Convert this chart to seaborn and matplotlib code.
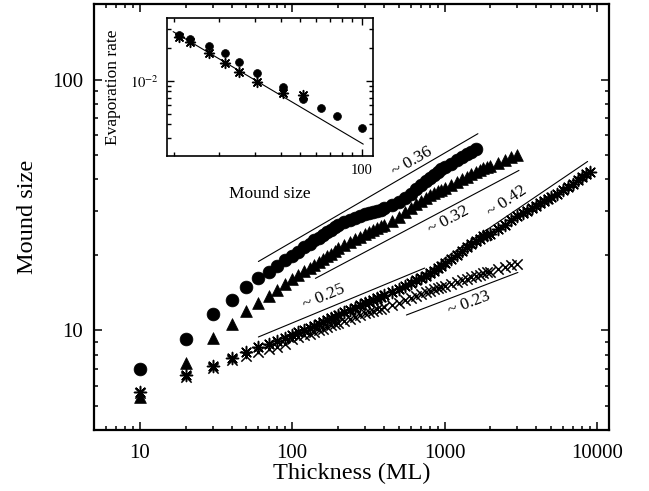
import numpy as np
import seaborn as sns
import matplotlib
matplotlib.use("Agg")
import matplotlib.pyplot as plt
from matplotlib.ticker import FixedLocator, NullFormatter, FixedFormatter

# thickness grid (ML)
thick = [10, 20, 30, 40, 50, 60, 70, 80, 90, 100,
         110, 120, 130, 140, 150, 160, 170, 180, 190, 200,
         220, 240, 260, 280, 300, 320, 340, 360, 380, 400,
         450, 500, 550, 600, 650, 700, 750, 800, 850, 900, 950, 1000,
         1100, 1200, 1300, 1400, 1500, 1600, 1700, 1800, 1900, 2000,
         2250, 2500, 2750, 3000]
thick_long = thick + [3250, 3500, 3750, 4000, 4250, 4500, 4750, 5000,
                      5500, 6000, 6500, 7000, 7500, 8000, 8500, 9000]

mound_circle = [7.0, 9.25, 11.6, 13.2, 14.9, 16.1, 17.1, 18.0, 19.0, 19.8,
                20.6, 21.4, 22.1, 22.8, 23.4, 24.0, 24.6, 25.2, 25.8, 26.3,
                27.0, 27.6, 28.1, 28.6, 29.0, 29.3, 29.7, 30.0, 30.3, 30.7,
                31.5, 32.5, 33.8, 35.0, 36.5, 37.9, 39.2, 40.4, 41.5, 42.6, 43.8, 44.6,
                46.2, 47.8, 49.2, 50.3, 51.3, 52.6]
mound_triangle = [5.4, 7.4, 9.35, 10.6, 11.9, 12.9, 13.7, 14.5, 15.3, 16.0,
                  16.6, 17.2, 17.7, 18.2, 18.7, 19.2, 19.7, 20.2, 20.7, 21.2,
                  21.9, 22.5, 23.1, 23.6, 24.1, 24.6, 25.1, 25.6, 26.0, 26.4,
                  27.2, 28.3, 29.6, 30.8, 31.9, 32.8, 33.7, 34.5, 35.2, 35.8, 36.4, 37.0,
                  38.0, 39.1, 40.1, 41.0, 41.9, 42.7, 43.5, 44.2, 44.8, 45.3,
                  46.5, 47.6, 49.0, 50.0]
mound_star = [5.67, 6.6, 7.2, 7.75, 8.2, 8.55, 8.8, 9.05, 9.35, 9.55,
              9.8, 10.0, 10.2, 10.4, 10.6, 10.8, 11.0, 11.2, 11.3, 11.5,
              11.8, 12.0, 12.3, 12.6, 12.8, 13.0, 13.2, 13.4, 13.6, 13.8,
              14.2, 14.6, 15.0, 15.4, 15.8, 16.2, 16.5, 16.9, 17.3, 17.7, 18.1, 18.5,
              19.3, 20.0, 20.7, 21.4, 22.0, 22.6, 23.2, 23.7, 24.0, 24.2,
              25.3, 26.4, 27.5, 28.5, 29.3, 30.0, 30.7, 31.4, 32.1, 32.7, 33.3, 33.9,
              35.0, 36.1, 37.2, 38.4, 39.7, 40.9, 41.9, 42.8]
mound_cross = [5.6, 6.5, 7.1, 7.6, 7.9, 8.2, 8.45, 8.6, 8.85, 9.2,
               9.4, 9.55, 9.7, 9.85, 10.0, 10.15, 10.3, 10.45, 10.55, 10.7,
               10.9, 11.1, 11.3, 11.5, 11.7, 11.8, 11.95, 12.1, 12.2, 12.35,
               12.6, 12.9, 13.2, 13.5, 13.7, 13.95, 14.15, 14.35, 14.55, 14.7, 14.9, 15.0,
               15.3, 15.55, 15.8, 16.0, 16.25, 16.45, 16.65, 16.85, 17.0, 17.15,
               17.5, 17.85, 18.15, 18.45]

# power-law guide lines: (x0, x1), (y0, y1), label, label position, angle
guides = [
    ((60, 1656), (18.8, 60.8), "~ 0.36", (612, 47.1), 30),
    ((142, 3080), (16.1, 43.4), "~ 0.32", (1067, 27.5), 28),
    ((60, 741), (9.4, 17.7), "~ 0.25", (161, 13.6), 22.5),
    ((966, 8690), (19.05, 47.1), "~ 0.42", (2585, 32.6), 34),
    ((562, 3030), (11.5, 17.0), "~ 0.23", (1445, 12.8), 21),
]

# inset: evaporation rate vs mound size
inset_size_circle = [12.7, 14.4, 17.8, 21.4, 25.1, 30.8, 41.0, 51.8, 63.4, 75.4, 100.7]
inset_rate_circle = [0.0262, 0.0240, 0.0208, 0.0178, 0.0149, 0.0118, 0.0087,
                     0.00675, 0.00558, 0.00477, 0.00371]
inset_size_star = [12.7, 14.4, 17.8, 21.4, 25.1, 30.8, 41.0, 51.8]
inset_rate_star = [0.0254, 0.0225, 0.0178, 0.0144, 0.0119, 0.00979, 0.00776, 0.00739]
inset_fit_size = [11.9, 101.8]
inset_fit_rate = [0.0282, 0.00262]

sns.set_style("ticks")
plt.rcParams["font.family"] = ["Liberation Serif", "DejaVu Serif"]
plt.rcParams["mathtext.fontset"] = "stix"
for key in ["text.color", "axes.labelcolor", "xtick.color", "ytick.color", "axes.edgecolor"]:
    plt.rcParams[key] = "k"

fig = plt.figure(figsize=(6.49, 4.91), dpi=100)
ax = fig.add_axes([0.1448, 0.1242, 0.7935, 0.8676])
ax.set_xscale("log")
ax.set_yscale("log")

sns.scatterplot(x=thick[:len(mound_cross)], y=mound_cross, marker="x", color="k",
                s=55, linewidth=1.1, ax=ax)
sns.scatterplot(x=thick_long, y=mound_star, marker=(8, 2, 0), color="k",
                edgecolor="k", s=75, linewidth=1.1, ax=ax)
sns.scatterplot(x=thick[:len(mound_triangle)], y=mound_triangle, marker="^", color="k",
                edgecolor="k", s=72, linewidth=0.5, ax=ax)
sns.scatterplot(x=thick[:len(mound_circle)], y=mound_circle, marker="o", color="k",
                edgecolor="k", s=85, linewidth=0.5, ax=ax)

for xs, ys, lab, pos, ang in guides:
    ax.plot(xs, ys, color="k", lw=0.8)
    ax.text(pos[0], pos[1], lab, rotation=ang, ha="center", va="center",
            rotation_mode="anchor", fontsize=12.5)

ax.set_xlim(5, 12000)
ax.set_ylim(4, 200)
ax.xaxis.set_major_locator(FixedLocator([10, 100, 1000, 10000]))
ax.xaxis.set_major_formatter(FixedFormatter(["10", "100", "1000", "10000"]))
ax.xaxis.set_minor_locator(FixedLocator([m * d for d in [1, 10, 100, 1000] for m in range(2, 10)]))
ax.yaxis.set_major_locator(FixedLocator([10, 100]))
ax.yaxis.set_major_formatter(FixedFormatter(["10", "100"]))
ax.yaxis.set_minor_locator(FixedLocator([m * d for d in [1, 10, 100] for m in range(2, 10)]))
ax.xaxis.set_minor_formatter(NullFormatter())
ax.yaxis.set_minor_formatter(NullFormatter())
ax.tick_params(which="both", direction="in", top=True, right=True, width=1.1, labelsize=15)
ax.tick_params(which="major", length=5.5, pad=8)
ax.tick_params(axis="x", which="major", pad=10)
ax.tick_params(which="minor", length=3)
for sp in ax.spines.values():
    sp.set_linewidth(1.6)
ax.set_xlabel("Thickness (ML)", fontsize=17.5, labelpad=0)
ax.set_ylabel("Mound size", fontsize=17.5, labelpad=10)

# inset
axi = fig.add_axes([0.2573, 0.6823, 0.3174, 0.281])
axi.set_xscale("log")
axi.set_yscale("log")
sns.scatterplot(x=inset_size_star, y=inset_rate_star, marker=(8, 2, 0), color="k",
                edgecolor="k", s=50, linewidth=1.1, ax=axi)
sns.scatterplot(x=inset_size_circle, y=inset_rate_circle, marker="o", color="k",
                edgecolor="k", s=32, linewidth=0.5, ax=axi)
axi.plot(inset_fit_size, inset_fit_rate, color="k", lw=0.8)
axi.set_xlim(11.1, 113.6)
axi.set_ylim(0.00204, 0.0376)
axi.xaxis.set_major_locator(FixedLocator([100]))
axi.xaxis.set_major_formatter(FixedFormatter(["100"]))
axi.xaxis.set_minor_locator(FixedLocator([12, 20, 30, 40, 50, 60, 70, 80, 90]))
axi.yaxis.set_major_locator(FixedLocator([0.01]))
axi.yaxis.set_major_formatter(FixedFormatter([r"$10^{-2}$"]))
axi.yaxis.set_minor_locator(FixedLocator([0.003, 0.004, 0.005, 0.006, 0.007, 0.008, 0.009, 0.02, 0.03]))
axi.xaxis.set_minor_formatter(NullFormatter())
axi.yaxis.set_minor_formatter(NullFormatter())
axi.tick_params(which="both", direction="in", top=True, right=True, width=1.0, labelsize=10.5)
axi.tick_params(which="major", length=5, pad=6)
axi.tick_params(which="minor", length=3)
for sp in axi.spines.values():
    sp.set_linewidth(1.2)
axi.set_xlabel("Mound size", fontsize=12.5, labelpad=6)
axi.set_ylabel("Evaporation rate", fontsize=12.5, labelpad=6)

fig.savefig("out.png", dpi=100)
